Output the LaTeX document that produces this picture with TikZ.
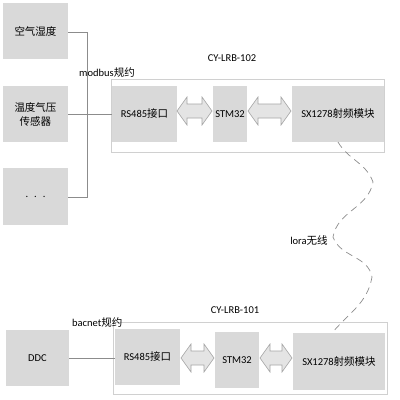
\documentclass[tikz,border=0pt]{standalone}
\usepackage{fontspec}
\setmainfont{Carlito}
\newfontfamily\cjk{Noto Sans CJK SC}
\newcommand{\zh}[1]{{\cjk #1}}
\definecolor{boxfill}{HTML}{D9D9D9}
\definecolor{linegray}{HTML}{8C8C8C}
\definecolor{framegray}{HTML}{D0D0D0}
\definecolor{arrfill}{HTML}{E4E4E4}
\definecolor{arrdraw}{HTML}{A6A6A6}
% double arrow: #1 left x, #2 right x, #3 centre y
\newcommand{\dblarr}[3]{%
  \draw[fill=arrfill,draw=arrdraw,line width=0.6pt,line join=miter]
    (#1,#3) -- (#1+10,#3-14) -- (#1+10,#3-7) -- (#2-10,#3-7) -- (#2-10,#3-14)
    -- (#2,#3) -- (#2-10,#3+14) -- (#2-10,#3+7) -- (#1+10,#3+7) -- (#1+10,#3+14) -- cycle;}
\begin{document}
\begin{tikzpicture}[x=1pt,y=-1pt,
  blk/.style={fill=boxfill,draw=none,inner sep=0pt,font=\fontsize{10.5}{12}\selectfont,align=center},
  frame/.style={draw=framegray,line width=0.8pt,fill=white},
  conn/.style={draw=linegray,line width=0.8pt},
  lbl/.style={font=\fontsize{10.5}{12}\selectfont,inner sep=0pt}]
\useasboundingbox (0,0) rectangle (400,400);
% left sensors
\node[blk,minimum width=65pt,minimum height=56pt] (s1) at (35.5,31) {\zh{空气湿度}};
\node[blk,minimum width=65pt,minimum height=56pt] (s2) at (35.5,114) {\zh{温度气压}\\[2pt]\zh{传感器}};
\node[blk,minimum width=65pt,minimum height=57pt] (s3) at (35.5,196.5) {.\hspace{6pt}.\hspace{6pt}.};
% top device frame
\node[frame,minimum width=273pt,minimum height=73pt,inner sep=0pt] (f1) at (247.5,115.5) {};
\node[lbl] (t1) at (232,58) {CY-LRB-102};
\node[blk,minimum width=65pt,minimum height=56pt] (r1) at (144.5,114) {RS485\zh{接口}};
\node[blk,minimum width=34pt,minimum height=56pt] (m1) at (230,114) {STM32};
\node[blk,minimum width=92pt,minimum height=56pt] (x1) at (338,114) {SX1278\zh{射频模块}};
\dblarr{177}{212}{111}
\dblarr{248}{291}{111}
% connections
\draw[conn] (s1.east |- 0,32) -- (87,32) -- (87,197) -- (s3.east |- 0,197);
\draw[conn] (s2.east) -- (r1.west);
\node[lbl,anchor=west] (mb) at (79,73) {modbus\zh{规约}};
% bottom device
\node[frame,minimum width=274pt,minimum height=72pt,inner sep=0pt] (f2) at (250,358) {};
\node[lbl] (t2) at (235,310) {CY-LRB-101};
\node[blk,minimum width=63pt,minimum height=56pt] (ddc) at (37.5,358) {DDC};
\node[blk,minimum width=65pt,minimum height=56pt] (r2) at (147.5,357) {RS485\zh{接口}};
\node[blk,minimum width=44pt,minimum height=56pt] (m2) at (237,360) {STM32};
\node[blk,minimum width=92pt,minimum height=57pt] (x2) at (339,361.5) {SX1278\zh{射频模块}};
\dblarr{181}{214}{358}
\dblarr{260}{292}{358}
\draw[conn] (ddc.east |- 0,358) -- (r2.west |- 0,358);
\node[lbl,anchor=west] (bn) at (72,322) {bacnet\zh{规约}};
% lora link
\coordinate (l0) at (338,142);
\coordinate (l4) at (332,333);
\draw[draw=linegray,line width=0.7pt,dash pattern=on 7pt off 5pt]
  (l0) to[out=-60,in=110] (373,182) to[out=-100,in=80] (333,237)
  to[out=-70,in=100] (372,277) to[out=-100,in=50] (l4);
\node[lbl] (lr) at (309,240) {lora\zh{无线}};
\end{tikzpicture}
\end{document}
